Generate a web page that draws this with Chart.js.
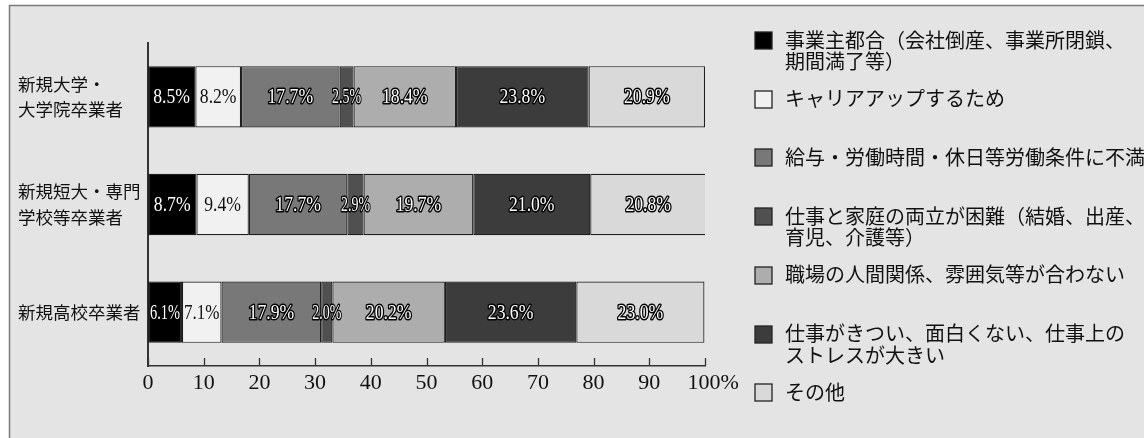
<!DOCTYPE html>
<html><head><meta charset="utf-8">
<script src="https://cdn.jsdelivr.net/npm/chart.js@4/dist/chart.umd.min.js"></script>
<style>html,body{margin:0;padding:0;background:#fff;overflow:hidden}#wrap{width:1144px;height:438px;position:relative}</style>
</head><body><div id="wrap"><canvas id="c" width="1144" height="438"></canvas></div>
<script>
const categories = [["新規大学・", "大学院卒業者"], ["新規短大・専門", "学校等卒業者"], ["新規高校卒業者"]];
const seriesNames = [
  ["事業主都合（会社倒産、事業所閉鎖、", "期間満了等）"],
  ["キャリアアップするため"],
  ["給与・労働時間・休日等労働条件に不満"],
  ["仕事と家庭の両立が困難（結婚、出産、", "育児、介護等）"],
  ["職場の人間関係、雰囲気等が合わない"],
  ["仕事がきつい、面白くない、仕事上の", "ストレスが大きい"],
  ["その他"]
];
const employerReasons = [8.5, 8.7, 6.1];
const careerUp = [8.2, 9.4, 7.1];
const workingConditions = [17.7, 17.7, 17.9];
const familyBalance = [2.5, 2.9, 2.0];
const relationships = [18.4, 19.7, 20.2];
const hardWork = [23.8, 21.0, 23.6];
const others = [20.9, 20.8, 23.0];
const xTicks = [0, 10, 20, 30, 40, 50, 60, 70, 80, 90, 100];

const seriesValues = [employerReasons, careerUp, workingConditions, familyBalance, relationships, hardWork, others];
const seriesColors = ["#000000", "#f1f1f1", "#787878", "#505050", "#adadad", "#3c3c3c", "#d9d9d9"];
const labelStyles = ["outline", "plain", "outline", "outline", "outline", "outline", "outline"];

const CJK = '"Noto Sans CJK JP", "Noto Sans", sans-serif';
const SERIF = '"Liberation Serif", "DejaVu Serif", serif';

const bgPlugin = {
  id: 'bg',
  beforeDraw(chart) {
    const ctx = chart.ctx;
    ctx.save();
    ctx.fillStyle = '#ffffff';
    ctx.fillRect(0, 0, chart.width, chart.height);
    ctx.fillStyle = '#e4e4e4';
    ctx.fillRect(10, 5, chart.width, chart.height);
    ctx.strokeStyle = '#7a7a7a';
    ctx.lineWidth = 1.5;
    ctx.beginPath();
    ctx.moveTo(9.5, chart.height + 2);
    ctx.lineTo(9.5, 5.5);
    ctx.lineTo(chart.width + 2, 5.5);
    ctx.stroke();
    ctx.restore();
  }
};

const tickMarkPlugin = {
  id: 'tickMarks',
  afterDraw(chart) {
    const sx = chart.scales.x;
    const ctx = chart.ctx;
    const bottom = chart.chartArea.bottom;
    ctx.save();
    ctx.strokeStyle = '#333';
    ctx.lineWidth = 1.3;
    xTicks.forEach(v => {
      const px = Math.round(sx.getPixelForValue(v)) + 0.5;
      ctx.beginPath();
      ctx.moveTo(px, bottom);
      ctx.lineTo(px, bottom - 8);
      ctx.stroke();
    });
    ctx.restore();
  }
};

const valueLabelPlugin = {
  id: 'valueLabels',
  afterDatasetsDraw(chart) {
    const ctx = chart.ctx;
    ctx.save();
    ctx.font = '21px ' + SERIF;
    ctx.textAlign = 'center';
    ctx.textBaseline = 'middle';
    ctx.lineJoin = 'round';
    chart.data.datasets.forEach((ds, di) => {
      const meta = chart.getDatasetMeta(di);
      meta.data.forEach((bar, i) => {
        const v = ds.data[i];
        const txt = v.toFixed(1) + '%';
        const cx = (bar.x + bar.base) / 2;
        const cy = bar.y + 1;
        const seg = Math.abs(bar.x - bar.base);
        const natural = ctx.measureText(txt).width;
        let w = natural * 0.84;
        if (w > seg - 4) w = Math.max(seg - 4, 29);
        if (labelStyles[di] === 'outline') {
          ctx.strokeStyle = '#000';
          ctx.lineWidth = 3;
          ctx.strokeText(txt, cx, cy, w);
          ctx.fillStyle = '#fff';
          ctx.fillText(txt, cx, cy, w);
        } else {
          ctx.fillStyle = '#111';
          ctx.fillText(txt, cx, cy, w);
        }
      });
    });
    ctx.restore();
  }
};

const legendPlugin = {
  id: 'sideLegend',
  afterDraw(chart) {
    const ctx = chart.ctx;
    ctx.save();
    ctx.font = '20px ' + CJK;
    ctx.textBaseline = 'middle';
    ctx.textAlign = 'left';
    const startY = 40, step = 58.7, lineH = 21.5;
    seriesNames.forEach((lines, i) => {
      const y0 = startY + i * step;
      ctx.fillStyle = seriesColors[i];
      ctx.fillRect(755, Math.round(y0 - 8), 17, 17);
      ctx.strokeStyle = '#222';
      ctx.lineWidth = 1.3;
      ctx.strokeRect(755, Math.round(y0 - 8), 17, 17);
      ctx.fillStyle = '#111';
      lines.forEach((t, li) => ctx.fillText(t, 785, y0 + li * lineH));
    });
    ctx.restore();
  }
};

new Chart(document.getElementById('c'), {
  type: 'bar',
  data: {
    labels: categories,
    datasets: seriesValues.map((vals, i) => ({
      label: seriesNames[i].join(''),
      data: vals,
      backgroundColor: seriesColors[i],
      borderColor: '#1e1e1e',
      borderWidth: 1.2,
      borderSkipped: false,
      barPercentage: 0.57,
      categoryPercentage: 1.0
    }))
  },
  options: {
    indexAxis: 'y',
    responsive: false,
    devicePixelRatio: 1,
    animation: false,
    layout: { padding: { left: 18, top: 43, right: 439, bottom: 0 } },
    plugins: { legend: { display: false }, tooltip: { enabled: false } },
    scales: {
      x: {
        stacked: true,
        min: 0, max: 100,
        afterBuildTicks(scale) { scale.ticks = xTicks.map(v => ({ value: v })); },
        afterFit(scale) { scale.height = 72; },
        grid: { display: false, drawTicks: false },
        border: { display: true, color: '#333', width: 1.5 },
        ticks: {
          autoSkip: false, maxRotation: 0, padding: 4,
          color: '#111',
          font: { family: SERIF, size: 22 },
          callback: (v) => v === 100 ? '   100%' : String(v)
        }
      },
      y: {
        stacked: true,
        afterFit(scale) { scale.width = 130; },
        grid: { display: false, drawTicks: false },
        border: { display: true, color: '#333', width: 2 },
        ticks: {
          crossAlign: 'far', padding: 0,
          color: '#111',
          font: { family: CJK, size: 17.5, lineHeight: 1.45 }
        }
      }
    }
  },
  plugins: [bgPlugin, tickMarkPlugin, valueLabelPlugin, legendPlugin]
});
</script>
</body></html>
